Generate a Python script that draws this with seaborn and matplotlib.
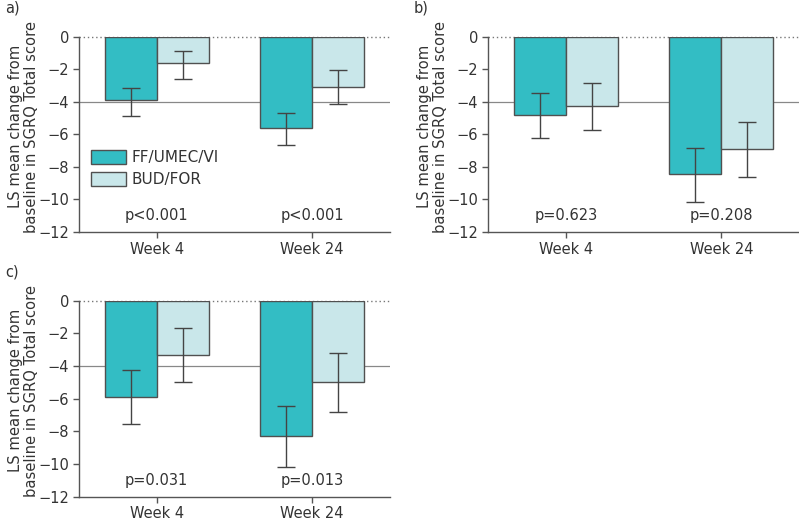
import matplotlib
matplotlib.use("Agg")
import matplotlib.pyplot as plt
import seaborn as sns
import pandas as pd
import numpy as np
from matplotlib.patches import Patch

sns.set_theme(style="white")
plt.rcParams['font.family'] = ['DejaVu Sans']

weeks = ["Week 4", "Week 24"]
treatments = ["FF/UMEC/VI", "BUD/FOR"]

# panel a
a_ff = [-3.9, -5.64]
a_ff_lo = [-4.86, -6.66]
a_ff_hi = [-3.13, -4.67]
a_bud = [-1.64, -3.07]
a_bud_lo = [-2.6, -4.12]
a_bud_hi = [-0.88, -2.05]
a_p = ["p<0.001", "p<0.001"]

# panel b
b_ff = [-4.82, -8.41]
b_ff_lo = [-6.21, -10.15]
b_ff_hi = [-3.44, -6.83]
b_bud = [-4.26, -6.93]
b_bud_lo = [-5.74, -8.64]
b_bud_hi = [-2.83, -5.27]
b_p = ["p=0.623", "p=0.208"]

# panel c
c_ff = [-5.9, -8.29]
c_ff_lo = [-7.57, -10.17]
c_ff_hi = [-4.26, -6.45]
c_bud = [-3.33, -4.98]
c_bud_lo = [-4.98, -6.8]
c_bud_hi = [-1.67, -3.2]
c_p = ["p=0.031", "p=0.013"]

yticks = [0, -2, -4, -6, -8, -10, -12]

colors = ["#33BDC4", "#C9E7EA"]
edge = "#505050"
txt = "#333333"
fs = 10.5

fig = plt.figure(figsize=(7.99, 5.24), dpi=100)
W, H = 799, 524
def add_ax(l, t, r, b):
    return fig.add_axes([l / W, 1 - b / H, (r - l) / W, (b - t) / H])

axa = add_ax(79, 36.7, 390, 232)
axb = add_ax(488, 36.7, 799, 232)
axc = add_ax(79, 300.7, 390, 496.7)

panels = [
    (axa, a_ff, a_ff_lo, a_ff_hi, a_bud, a_bud_lo, a_bud_hi, a_p, "a)"),
    (axb, b_ff, b_ff_lo, b_ff_hi, b_bud, b_bud_lo, b_bud_hi, b_p, "b)"),
    (axc, c_ff, c_ff_lo, c_ff_hi, c_bud, c_bud_lo, c_bud_hi, c_p, "c)"),
]

for ax, ff, fflo, ffhi, bud, budlo, budhi, pv, lab in panels:
    df = pd.DataFrame({
        "week": weeks * 2,
        "treat": [treatments[0]] * 2 + [treatments[1]] * 2,
        "val": ff + bud,
        "lo": fflo + budlo,
        "hi": ffhi + budhi,
    })
    ax.axhline(-4, color="#888888", lw=0.9, zorder=0)
    ax.axhline(0, color="#777777", lw=1.0, ls=(0, (1, 2)), zorder=0, clip_on=False)
    sns.barplot(data=df, x="week", y="val", hue="treat", order=weeks,
                hue_order=treatments, palette=colors, saturation=1,
                width=0.667, edgecolor=edge, linewidth=1.0, errorbar=None,
                legend=False, ax=ax, zorder=2)
    bars = [p for p in ax.patches if p.get_height() != 0]
    for p, (_, row) in zip(bars, df.iterrows()):
        xc = p.get_x() + p.get_width() / 2
        ax.errorbar([xc], [row["val"]],
                    yerr=[[row["val"] - row["lo"]], [row["hi"] - row["val"]]],
                    fmt="none", ecolor="#444444", elinewidth=1.0, capsize=6.5,
                    capthick=1.0, zorder=3)
    for i, t in enumerate(pv):
        ax.text(i, -11.0, t, ha="center", va="center", fontsize=fs, color=txt)
    ax.set_ylim(-12, 0)
    ax.set_xlim(-0.5, 1.5)
    ax.set_yticks(yticks)
    ax.set_yticklabels(["0" if v == 0 else "\u2212" + str(abs(v)) for v in yticks])
    ax.set_xlabel("")
    ax.set_ylabel("LS mean change from\nbaseline in SGRQ Total score",
                  fontsize=10.6, color=txt, linespacing=1.1)
    ax.yaxis.set_label_coords(-0.128, 0.54)
    sns.despine(ax=ax, top=True, right=True)
    for s in ["left", "bottom"]:
        ax.spines[s].set_color("#555555")
        ax.spines[s].set_linewidth(1.0)
    ax.tick_params(axis="both", which="both", length=4, width=1.0,
                   color="#555555", labelsize=fs, labelcolor=txt,
                   left=True, bottom=True, direction="out", pad=3)
    pos = ax.get_position()
    fig.text(pos.x0 - 74 / W, pos.y1 + 29 / H, lab, fontsize=fs, color=txt,
             ha="left", va="center")

handles = [Patch(facecolor=colors[0], edgecolor=edge, label=treatments[0]),
           Patch(facecolor=colors[1], edgecolor=edge, label=treatments[1])]
axa.legend(handles=handles, loc="upper left", bbox_to_anchor=(0.02, 0.45),
           frameon=False, fontsize=11, handlelength=2.3, handleheight=1.0,
           labelcolor=txt, borderaxespad=0, handletextpad=0.35, labelspacing=0.45)

fig.savefig("out.png", dpi=100)
